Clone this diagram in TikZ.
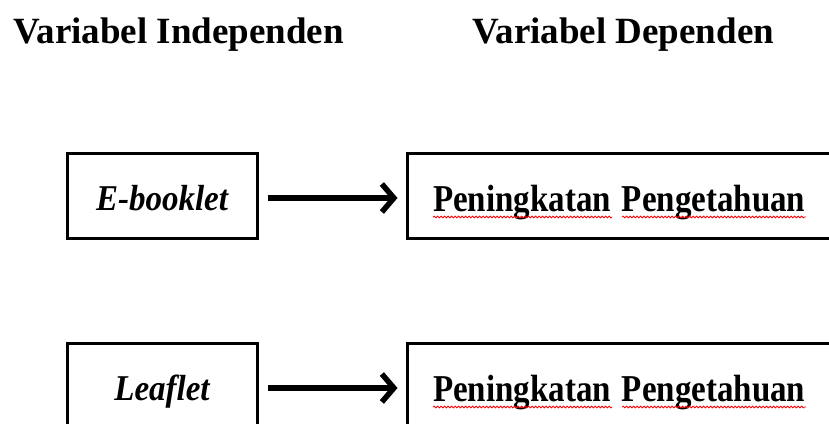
\documentclass[tikz,border=0pt]{standalone}
\usepackage{fontspec}
\setmainfont{Liberation Serif}
\usetikzlibrary{arrows.meta,decorations.pathmorphing}
\begin{document}
\begin{tikzpicture}[x=1pt,y=-1pt,
  head/.style={font=\fontsize{37}{44}\selectfont\bfseries, inner sep=0pt, anchor=base west},
  leftbox/.style={draw, line width=3pt, minimum width=190pt, minimum height=85pt, inner sep=0pt,
    text height=30pt, text depth=0pt, font=\fontsize{33}{40}\selectfont\bfseries\itshape},
  rightbox/.style={draw, line width=3pt, minimum height=85pt, inner ysep=0pt, inner xsep=26pt,
    text width=398pt, align=left,
    text height=32pt, text depth=0pt, font=\fontsize{33}{40}\selectfont\bfseries},
  link/.style={line width=5.5pt, shorten <=9pt, shorten >=8pt,
    -{Straight Barb[length=12pt,width=28pt,line width=5.5pt]}},
  wavy/.style={red, line width=0.8pt, decorate,
    decoration={snake, amplitude=0.9pt, segment length=3.5pt}}]
\useasboundingbox (0,0) rectangle (829,423);
\clip (0,0) rectangle (829,423);

\node[head] (h1) at (13,43) {Variabel Independen};
\node[head] (h2) at (472,43) {Variabel Dependen};

\node[leftbox]  (b1) at (162,195.5) {\scalebox{1}[1.1]{E-booklet}};
\node[rightbox] (b2) at (632,195.5) {\scalebox{1}[1.15]{Peningkatan Pengetahuan}};
\node[leftbox]  (b3) at (162,385.5) {\scalebox{1}[1.1]{Leaflet}};
\node[rightbox] (b4) at (632,385.5) {\scalebox{1}[1.15]{Peningkatan Pengetahuan}};

\draw[link] ([yshift=-2.5pt]b1.east) -- ([yshift=-2.5pt]b2.west);
\draw[link] ([yshift=-2.5pt]b3.east) -- ([yshift=-2.5pt]b4.west);

\draw[wavy] (433,217) -- (612,217);
\draw[wavy] (622,217) -- (806,217);
\draw[wavy] (433,407) -- (612,407);
\draw[wavy] (622,407) -- (806,407);
\end{tikzpicture}
\end{document}
